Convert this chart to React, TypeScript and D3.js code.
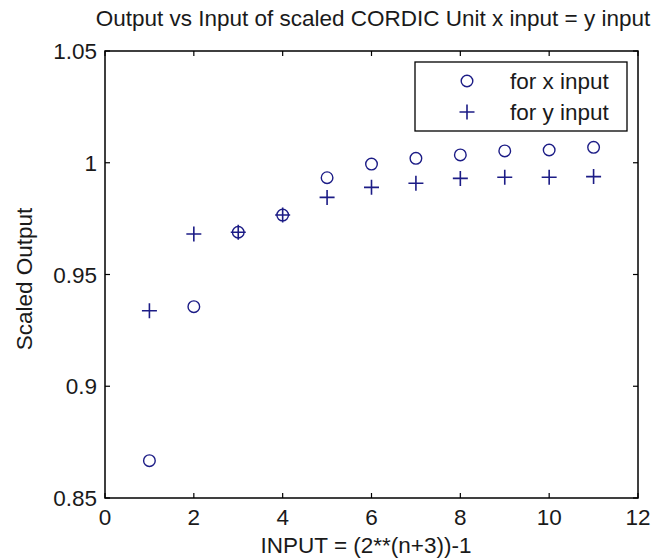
import React from "react";
import * as d3 from "d3";

const inputs = [1, 2, 3, 4, 5, 6, 7, 8, 9, 10, 11];
const xInputOutput = [0.8667, 0.9356, 0.9689, 0.9766, 0.9933, 0.9994, 1.002, 1.0035, 1.0053, 1.0057, 1.0069];
const yInputOutput = [0.9338, 0.9681, 0.9689, 0.9766, 0.9845, 0.989, 0.9908, 0.993, 0.9935, 0.9935, 0.9938];
const xTicks = [0, 2, 4, 6, 8, 10, 12];
const yTicks = [0.85, 0.9, 0.95, 1, 1.05];
const yTickLabels = ["0.85", "0.9", "0.95", "1", "1.05"];
const legendLabels = ["for x input", "for y input"];
const title = "Output vs Input of scaled CORDIC Unit x input = y input";
const xLabel = "INPUT = (2**(n+3))-1";
const yLabel = "Scaled Output";

const W = 663;
const H = 559;
const L = 105, R = 638, T = 51, B = 498;
const FONT = "'Liberation Sans', Arial, sans-serif";
const FS = 22.5;
const MARK = "#1c1c86";
const TXT = "#1a1a1a";

export default function App() {
  const x = d3.scaleLinear().domain([0, 12]).range([L, R]);
  const y = d3.scaleLinear().domain([0.85, 1.05]).range([B, T]);
  const tick = 5;

  const circle = (cx: number, cy: number, key: string) => (
    <circle key={key} cx={cx} cy={cy} r={5.8} fill="none" stroke={MARK} strokeWidth={1.4} />
  );
  const plus = (cx: number, cy: number, key: string) => (
    <path key={key} d={`M${cx - 7.5},${cy}H${cx + 7.5}M${cx},${cy - 7.5}V${cy + 7.5}`} stroke={MARK} strokeWidth={1.6} fill="none" />
  );

  return (
    <svg width={W} height={H} style={{ position: "absolute", left: 0, top: 0, background: "#fff" }} fontFamily={FONT}>
      <rect x={0} y={0} width={W} height={H} fill="#fff" />
      <text x={373} y={26} textAnchor="middle" fontSize={FS} fill={TXT}>{title}</text>

      {xTicks.map((t, i) => (
        <g key={"xt" + i}>
          <line x1={x(t)} x2={x(t)} y1={B} y2={B - tick} stroke="#000" strokeWidth={1.2} />
          <line x1={x(t)} x2={x(t)} y1={T} y2={T + tick} stroke="#000" strokeWidth={1.2} />
          <text x={x(t)} y={525} textAnchor="middle" fontSize={FS} fill={TXT}>{t}</text>
        </g>
      ))}
      {yTicks.map((t, i) => (
        <g key={"yt" + i}>
          <line x1={L} x2={L + tick} y1={y(t)} y2={y(t)} stroke="#000" strokeWidth={1.2} />
          <line x1={R} x2={R - tick} y1={y(t)} y2={y(t)} stroke="#000" strokeWidth={1.2} />
          <text x={97} y={y(t)} dy="0.36em" textAnchor="end" fontSize={FS} fill={TXT}>{yTickLabels[i]}</text>
        </g>
      ))}

      <rect x={L} y={T} width={R - L} height={B - T} fill="none" stroke="#000" strokeWidth={1.5} />

      {inputs.map((v, i) => circle(x(v), y(xInputOutput[i]), "c" + i))}
      {inputs.map((v, i) => plus(x(v), y(yInputOutput[i]), "p" + i))}

      <rect x={415} y={62} width={212} height={69} fill="#fff" stroke="#000" strokeWidth={1.3} />
      {circle(467, 81, "lc")}
      {plus(467, 112, "lp")}
      <text x={510} y={89} fontSize={FS} fill={TXT}>{legendLabels[0]}</text>
      <text x={510} y={120} fontSize={FS} fill={TXT}>{legendLabels[1]}</text>

      <text x={366} y={553} textAnchor="middle" fontSize={FS} fill={TXT}>{xLabel}</text>
      <text transform={`translate(32,279) rotate(-90)`} textAnchor="middle" fontSize={FS} fill={TXT}>{yLabel}</text>
    </svg>
  );
}
